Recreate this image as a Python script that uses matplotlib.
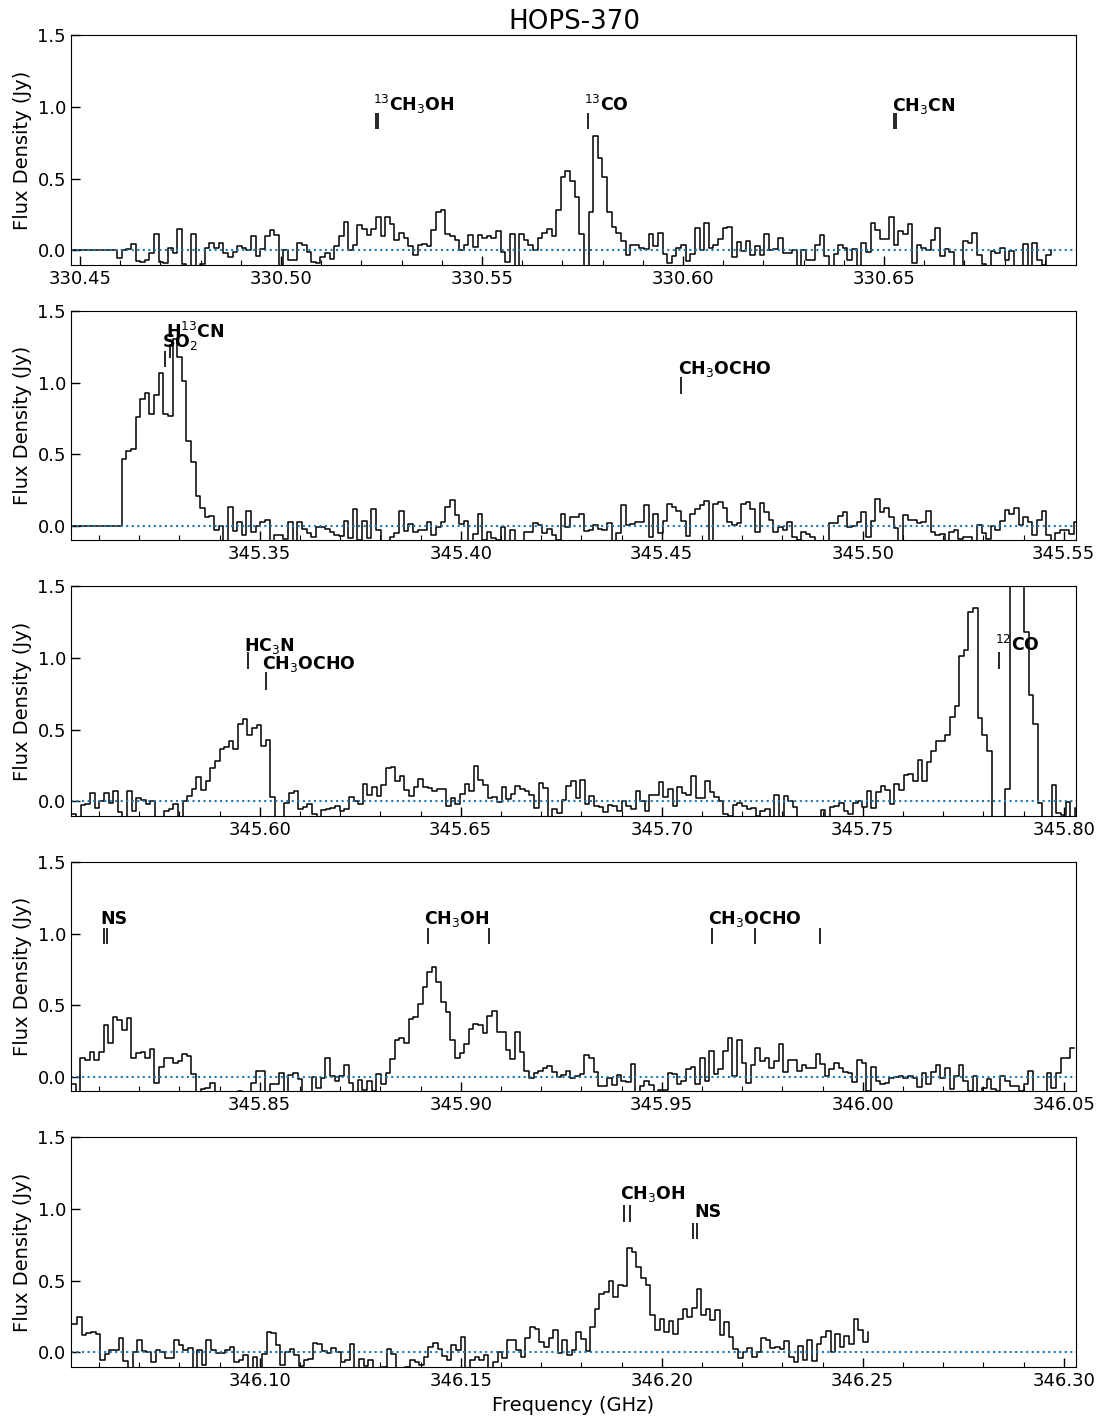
import matplotlib
matplotlib.use("Agg")
import matplotlib.pyplot as plt
import numpy as np
from matplotlib.ticker import MultipleLocator

plt.rcParams['mathtext.default'] = 'rm'

# channel width (GHz)
DV = 0.00115

# left edge of the first channel in each panel
START = [330.4477, 345.3030, 345.5532, 345.8031, 346.0534]
XLIM = [(330.4477, 330.6977), (345.303, 345.553), (345.553, 345.803), (345.803, 346.053), (346.053, 346.303)]

flux1 = [0, 0, 0, 0, 0, 0, 0, 0, 0, 0,
    -.05, 0, .01, .045, -.075, -.08, -.07, -.015, .115, -.08, -.09, .015, -.02, .15, -.095, -.12, .115, -.12, -.095,
    .02, .055, .015, .05, -.015, -.045, -.01, .03, .015, 0, .1, -.04, .01, .1, .14, .105, -.14, 0, -.065, -.065,
    .05, .035, -.01, -.08, -.09, -.045, -.02, -.06, .03, .1, .2, .005, .04, .18, .15, .105, .15, .235, .1, .23,
    .185, .075, .12, .09, .03, -.03, .035, .045, .03, .145, .27, .28, .115, .1, .07, .005, .04, .105, .025, .105,
    .09, .1, .09, .135, -.01, -.08, .115, -.14, .115, .075, .035, .005, .09, .12, .15, .1, .28, .515, .555, .485,
    .375, .115, -.16, .27, .80, .645, .515, .27, .165, .12, .065, -.03, .04, .04, .015, .01, .115, .03, .12,
    -.025, -.085, -.04, .015, .04, -.075, -.025, .155, 0, .19, .015, .035, .08, .155, .165, -.045, .06, -.005,
    .065, -.035, .03, -.035, .115, 0, .01, .085, -.02, -.02, .005, -.135, 0, -.07, -.065, .04, .105, -.04, -.13,
    -.025, .04, .015, -.07, .01, -.14, .05, -.01, .19, .145, .08, .08, .235, .04, .135, .115, .185, -.09, .04,
    .015, .005, .075, .155, -.04, .01, -.01, -.14, -.14, .065, .05, .12, -.03, -.095, -.13, -.005, -.015, .015,
    -.065, -.005, -.13, -.14, .045, -.13, .055, -.065, -.1, -.035, 0]

flux2 = [0, 0, 0, 0, 0, 0, 0, 0, 0, 0, 0,
    .47, .525, .54, .76, .885, .93, .78, .915, 1.065, .78, .77, 1.30, 1.175, 1.01, .59, .445, .21, .125, .06, .07,
    -.03, 0, -.14, .13, -.035, .025, -.06, .105, -.045, 0, .03, .04, -.14, -.065, -.06, -.09, .025, -.14, .03,
    -.02, -.05, -.075, -.005, -.01, -.02, -.045, -.06, -.07, .035, -.085, .12,
    -.1, .035, -.085, .12, -.03, -.14, -.14, -.08, -.05, .105, -.035, .015, -.045, -.03, -.03, .03, -.06, -.01,
    .025, .13, .18, .075, .015, .035, -.14, -.055, .08, -.095, -.045, -.085, -.1, -.005, -.13, -.025, -.13, -.12,
    -.045, -.04, .02, .005, -.05, -.02, -.06, -.1, .08, -.01, .065, .06, .08, -.035, -.03, .01, -.02, -.03, .02,
    -.13, -.05, .145, .005, .015, .025, .03, .145, -.075, .08, -.05, .035, .155, .13, .105, .035, -.07, .085, .12,
    .145, .175, -.14, .155, .165, .125, .03, .005, .02, .155, .17, .12, -.045, .16, .10, .04, -.045, -.01, -.03,
    .025, -.075, -.095, -.045, -.055, -.075, -.11, -.13, -.14, .02, .02, .07, .095, -.005, 0, .03, .095, -.075,
    .035, .19, .095, .125, .065, -.015, -.14, .075, .04, .045, .02, .03, .105, -.045, -.065, -.055, -.12, -.045,
    -.03, -.09, -.08, -.08, -.13, .005, -.05, -.09, 0, -.03, .035, .11, .085, .125, .005, .06, .025, -.065, .045,
    .105, -.065, -.11, -.05, -.03, -.025, -.055, .03, -.04, -.045, .01, .01]

flux3 = [-.09, -.12, -.025, -.02, .06, -.045, 0, .06, -.01, .075, -.075, -.13, .07, -.065, .025, .01, -.02, .005,
    -.13, -.13, -.065, -.055, -.015, -.13, 0, .035, .09, .17, .08, .14, .235, .28, .365, .38, .42, .365, .54, .575,
    .46, .51, .535, .39, .43, .03, -.16, -.12, -.01, .06, .07, -.05, -.04, -.02, -.085, -.11, -.06, -.05, -.045,
    -.035, -.065, -.055, .03, .005, -.015, .12, .045, .10, .04, .115, .23, .24, .145, .18, .08, .04, .10, .16, .10,
    .095, .07, .09, .085, -.03, .025, -.015, .055, .125, .07, .25, .15, .115, .025, .03, -.005, .10, .015, .055,
    .105, .09, .075, .045, -.045, .13, .095, -.14, -.05, -.08, .01, .105, .145, .025, .15, -.02, .035, -.03, -.04,
    -.075, -.025, -.03, -.07, .005, -.03, -.05, .075, .005, -.065, .045, .045, .135, .03, .09, -.03, .10, .06, .045,
    .175, .025, .025, .145, .065, .03, .005, -.09, -.1, -.025, -.01, -.035, -.055, -.045, -.1, -.065, -.05, -.13,
    .045, -.13, .04, 0, -.04, -.13, -.13, -.14, -.14, -.12, -.06, -.13, -.04, -.035, -.01, -.065, -.085, -.01, 0,
    -.04, .075, -.045, .065, .11, .08, -.02, .12, .08, .185, .19, .14, .29, .14, .275, .35, .42, .42, .465, .59,
    .665, 1.015, 1.055, 1.32, 1.35, .58, .465, .355, -.15, -.15, -.16, .09, 2.5, 3.0, 2.0, 1.18, .74, .54, -.01,
    -.14, -.12, .115, -.08, -.095, -.005, -.11, -.045, -.045]

flux4 = [-.05, -.12, .13, .115, .175, .115, .175, .365, .235, .415, .395, .33, .41, .135, .165, .175, .13, .195,
    -.045, .07, .135, .135, .095, .11, .16, .145, .02, -.13, -.085, -.075, -.04, -.13, -.13, -.13, -.12, -.12, -.095,
    -.13, -.11, -.045, .045, .04, -.13, -.05, -.05, .03, -.12, .015, .03, -.015, -.13, -.13, 0, -.08, -.01, .13, .01,
    -.03, .005, .08, -.045, -.12, -.02, -.09, -.025, -.1, .02, -.05, .03, .125, .255, .27, .235, .405, .42, .51, .63,
    .735, .77, .665, .525, .45, .255, .135, .165, .23, .335, .37, .365, .305, .425, .46, .31, .31, .185, .125, .315,
    .175, .04, -.005, .03, .045, .065, .075, .035, 0, .015, .04,
    -.005, .005, .02, .155, .13, .035, -.06, -.065, -.005, -.055, .015, -.025, -.035, .09, -.14, -.06, -.03, -.055,
    -.13, -.09, -.09, .03, .02, -.05, -.03, .055, .07, -.05, .13, -.03, .18, .02, .055, .18, .27, .005, .255, .095,
    -.04, .08, .2, .11, .13, .06, .11, .23, .035, .115, .115, .045, .085, .06, .06, .16, .09, .005, .055, .1, .06,
    .035, .03, -.035, .12, .1, -.095, .07, -.03, -.05, -.04, -.01, 0, .005, -.01, .005, -.01, -.07, .03, -.05, .035,
    .085, -.01, .06, -.085, .005, .085, -.03, -.095, .005, -.13, -.08, -.015, -.085, -.095, .005, -.03, -.06, -.065,
    -.095, -.05, .04, -.11, -.12, -.12, .03, -.075, .025, .13, .135, .205, .205]

flux5 = [.2, .25, .125, .135, .145, .13, -.05, -.01, .015, .015, .10, -.06, -.13, 0, .085, .01, 0, -.07, .02, 0, -.04,
    -.04, .09, .05, .015, .03, -.13, .015, -.085, .09, .02, -.005, -.005, .015, .035, -.065, -.055, -.015, -.13,
    -.035, -.13, -.01, .14, .135, .05, -.085, 0, .025, -.02, -.095, -.055, -.045, .065, .06, .01, -.005, .03, 0,
    -.065, -.05, .06, -.13, -.045, -.095, -.05, -.12, -.12, -.1, .025, -.01, -.12, -.14, -.1, -.055, -.07, -.09,
    -.03, .035, .065, .025, -.025, -.05, .055, .02, .11, -.13, -.055, -.03, -.055, -.02, -.13, -.07, 0, -.04, .085,
    .09, .02, -.03, .10, .18, .165, .07, .035, .10, .155,
    -.005, .085, -.015, .02, .145, .095, .01, .175, .30, .41, .42, .495, .39, .47, .46, .73, .70, .595, .52, .47, .26,
    .16, .23, .14, .22, .13, .235, .30, .25, .31, .445, .26, .30, .225, .295, .125, .215, .105, .025, -.04, 0, .03,
    -.03, 0, .10, .09, .03, .04, .025, .08, -.03, -.065, .045, -.05, .09, -.06, .06, .105, .15, 0, .13, .035, .115,
    .06, .23, .155, .07, .145]

FLUX = [flux1, flux2, flux3, flux4, flux5]

# line markers: label, text x, text y, marker frequencies, marker bottom, marker top
lines1 = [
    (r"$^{13}$CH$_3$OH", 330.5228, .975, [330.5236, 330.5241], .85, .955),
    (r"$^{13}$CO", 330.5754, .975, [330.5764], .85, .955),
    (r"CH$_3$CN", 330.6520, .975, [330.6526, 330.6529], .85, .955),
]
lines2 = [
    (r"SO$_2$", 345.3256, 1.25, [345.3265], 1.11, 1.22),
    (r"H$^{13}$CN", 345.3266, 1.31, [345.3277], 1.17, 1.27),
    (r"CH$_3$OCHO", 345.4541, 1.06, [345.4549], .92, 1.04),
]
lines3 = [
    (r"HC$_3$N", 345.5961, 1.05, [345.5971], .92, 1.045),
    (r"CH$_3$OCHO", 345.6006, .92, [345.6016], .775, .90),
    (r"$^{12}$CO", 345.7829, 1.05, [345.7839], .92, 1.045),
]
lines4 = [
    (r"NS", 345.8104, 1.065, [345.8112, 345.8121], .925, 1.04),
    (r"CH$_3$OH", 345.8908, 1.065, [345.8918, 345.9070], .925, 1.04),
    (r"CH$_3$OCHO", 345.9616, 1.065, [345.9625, 345.9732, 345.9894], .925, 1.04),
]
lines5 = [
    (r"CH$_3$OH", 346.1897, 1.07, [346.1906, 346.1921], .91, 1.03),
    (r"NS", 346.2081, .945, [346.2078, 346.2087], .79, .905),
]
LINES = [lines1, lines2, lines3, lines4, lines5]

W, H = 1102, 1418
TOPS = [35.3, 310.8, 586.3, 861.8, 1137.3]
fig = plt.figure(figsize=(W / 100, H / 100), dpi=100)

for i in range(5):
    ax = fig.add_axes([70.8 / W, 1 - (TOPS[i] + 229.5) / H, 1005 / W, 229.5 / H])
    freq = START[i] + np.arange(len(FLUX[i])) * DV
    ax.step(freq, FLUX[i], where='post', color='k', lw=1.1)
    ax.axhline(0, color='C0', ls=':', lw=1.5)
    for name, tx, ty, fs, lo, hi in LINES[i]:
        ax.vlines(fs, lo, hi, color='k', lw=1.2)
        ax.text(tx, ty, name, fontsize=12.5, fontweight='bold', va='baseline', ha='left')
    ax.set_xlim(*XLIM[i])
    ax.set_ylim(-0.1, 1.5)
    ax.set_yticks([0, 0.5, 1.0, 1.5])
    ax.xaxis.set_major_locator(MultipleLocator(0.05))
    ax.xaxis.set_minor_locator(MultipleLocator(0.01))
    ax.xaxis.set_major_formatter('{x:.2f}')
    ax.tick_params(which='major', direction='in', length=6.5, width=1, labelsize=13)
    ax.tick_params(which='minor', direction='in', length=3.5, width=0.8)
    ax.set_ylabel('Flux Density (Jy)', fontsize=14, labelpad=4)

ax.set_xlabel('Frequency (GHz)', fontsize=14, labelpad=4.5)
fig.text(574 / W, 1 - 29 / H, 'HOPS-370', fontsize=18.8, ha='center', va='baseline')

fig.savefig('out.png', dpi=100)
